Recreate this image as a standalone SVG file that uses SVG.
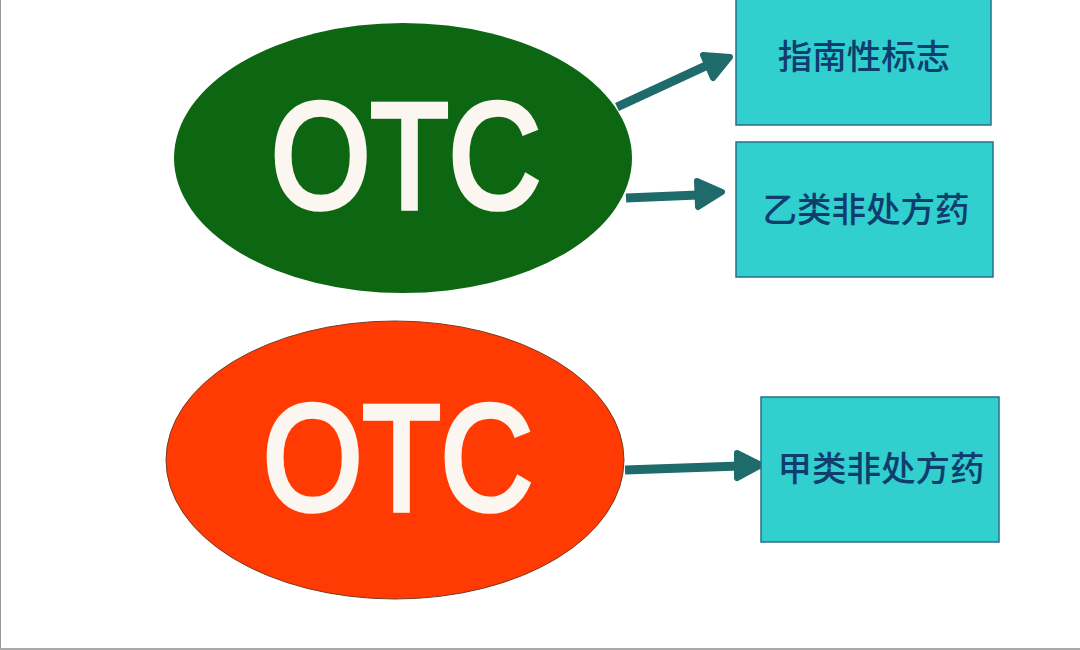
<svg xmlns="http://www.w3.org/2000/svg" width="1080" height="650" viewBox="0 0 1080 650">
<defs>
<style>
.box{fill:#32cfcf;stroke:#2b6f88;stroke-width:1.5}
.lbl{font-family:"Noto Sans CJK SC","Liberation Sans",sans-serif;font-size:34.5px;font-weight:500;fill:#0f3d6e;text-anchor:middle}
.otc{font-family:"Liberation Sans","Noto Sans",sans-serif;font-size:150px;fill:#fbf7f0;stroke:#fbf7f0;stroke-width:5.5;text-anchor:middle}
.shaft{stroke:#1f6b6b;stroke-width:9;fill:none}
.head{fill:#1f6b6b;stroke:#1f6b6b;stroke-width:6;stroke-linejoin:round}
</style>
</defs>
<rect width="1080" height="650" fill="#ffffff"/>
<rect x="0" y="0" width="1" height="650" fill="#9a9a9a"/>
<rect x="0" y="648" width="1080" height="2" fill="#a8a8a8"/>
<g id="connectors">
<line class="shaft" x1="617" y1="107" x2="710" y2="64"/>
<polygon class="head" points="703,55 730,57 713,78"/>
<line class="shaft" x1="626" y1="198" x2="698" y2="195"/>
<polygon class="head" points="697,181 722,192 698,207"/>
<line class="shaft" x1="625" y1="470" x2="740" y2="466"/>
<polygon class="head" points="737,453 761,465 737,478"/>
</g>
<g id="otc-green">
<ellipse cx="403" cy="158" rx="229" ry="135" fill="#0c6612"/>
<text class="otc" x="406" y="208" textLength="270" lengthAdjust="spacingAndGlyphs">OTC</text>
</g>
<g id="otc-red">
<ellipse cx="395" cy="460" rx="229" ry="139" fill="#ff3b03" stroke="#7a3a20" stroke-width="1"/>
<text class="otc" x="398" y="510" textLength="270" lengthAdjust="spacingAndGlyphs">OTC</text>
</g>
<g id="box-guide">
<rect class="box" x="736" y="-4" width="255" height="129"/>
<text class="lbl" x="864" y="69">指南性标志</text>
</g>
<g id="box-b">
<rect class="box" x="736" y="142" width="257" height="135"/>
<text class="lbl" x="866" y="222">乙类非处方药</text>
</g>
<g id="box-a">
<rect class="box" x="761" y="397" width="238" height="145"/>
<text class="lbl" x="881" y="481">甲类非处方药</text>
</g>
</svg>
